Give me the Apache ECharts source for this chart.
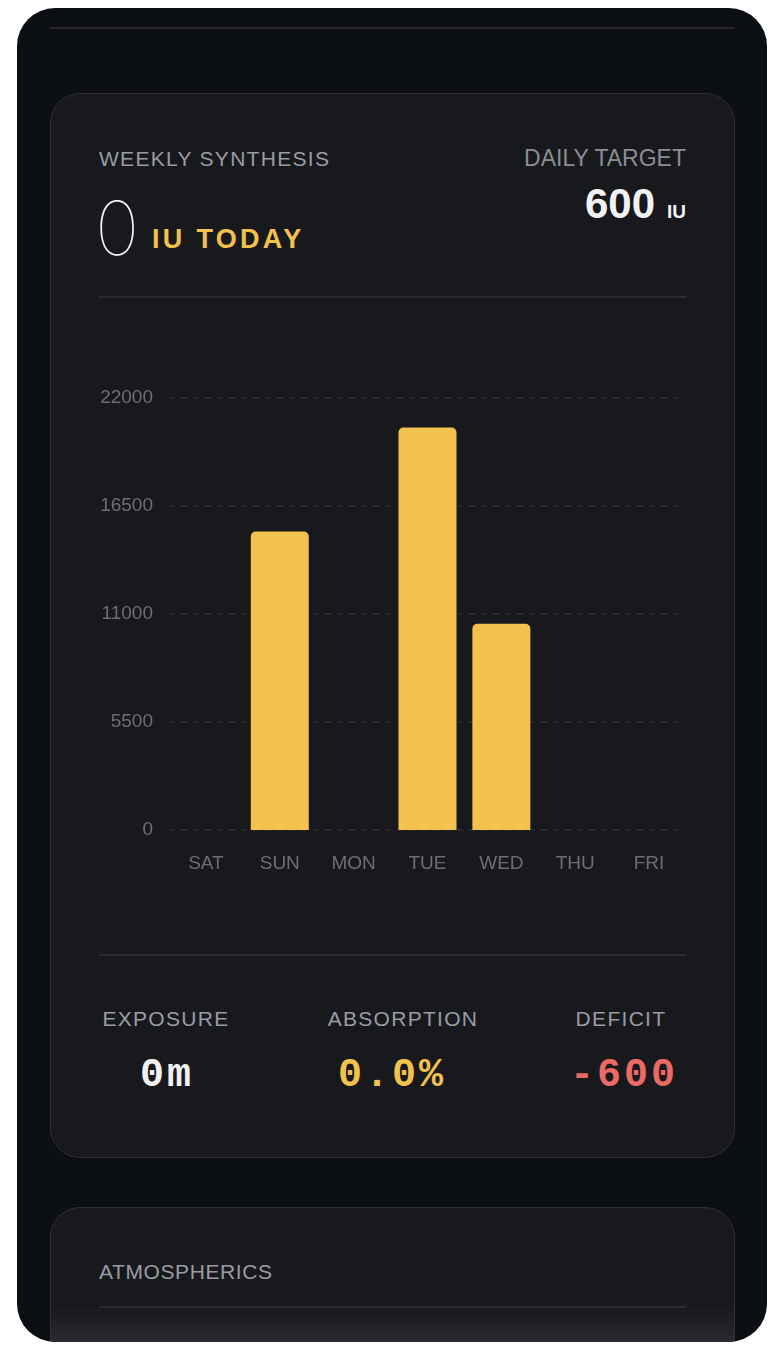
<!DOCTYPE html>
<html>
<head>
<meta charset="utf-8">
<script src="https://cdn.jsdelivr.net/npm/echarts@6/dist/echarts.min.js"></script>
<style>
  html, body { margin: 0; padding: 0; background: #ffffff; }
  body { width: 774px; height: 1354px; position: relative; overflow: hidden; font-family: "Liberation Sans", "Noto Sans", sans-serif; }
  .phone { position: absolute; left: 17px; top: 8px; width: 750px; height: 1334px; background: #0c0f13; border-radius: 38px; overflow: hidden; }
  .topline { position: absolute; left: 33px; top: 19px; width: 685px; height: 2px; background: #24262b; }
  .card { position: absolute; left: 33px; width: 683px; border: 1.5px solid #2f3035; border-radius: 30px; background: #18191d; }
  .card1 { top: 85px; height: 1063px; }
  .card2 { top: 1199px; height: 200px; background: linear-gradient(#18191d 0px, #18191d 98px, #2c2d32 140px); }
  .lbl { position: absolute; color: #9a9ca5; font-size: 21px; letter-spacing: 1.3px; }
  .divider { position: absolute; left: 48px; width: 587px; height: 1.5px; background: #2c2d32; }
  .mono { font-family: "Liberation Mono", "DejaVu Sans Mono", monospace; font-weight: 700; font-size: 40px; letter-spacing: 3px; position: absolute; text-align: center; }
  #chart { position: absolute; left: 0; top: 210px; width: 683px; height: 650px; }
</style>
</head>
<body>
<div class="phone">
  <div class="topline"></div>
  <div class="card card1">
    <div class="lbl" style="left:48px; top:53px;">WEEKLY SYNTHESIS</div>
    <div style="position:absolute; left:44px; top:96px; color:#f2f2f4; font-family:Inter, sans-serif; font-size:75px; font-weight:100; line-height:1;">0</div>
    <div style="position:absolute; left:101px; top:130px; color:#f2c14e; font-size:27px; font-weight:700; letter-spacing:3.3px;">IU TODAY</div>
    <div style="position:absolute; right:48px; top:51px; color:#8b8d95; font-size:23px;">DAILY TARGET</div>
    <div style="position:absolute; right:48px; top:86px; color:#f2f2f4; font-weight:700;"><span style="font-size:42px;">600</span><span style="font-size:19px; margin-left:12px;">IU</span></div>
    <div class="divider" style="top:202px;"></div>
    <div id="chart"></div>
    <div class="divider" style="top:860px;"></div>
    <div class="lbl" style="left:0; width:230px; text-align:center; top:913px;">EXPOSURE</div>
    <div class="lbl" style="left:237px; width:230px; text-align:center; top:913px;">ABSORPTION</div>
    <div class="lbl" style="left:455px; width:230px; text-align:center; top:913px;">DEFICIT</div>
    <div class="mono" style="left:0; width:232px; top:959px; color:#f2f2f4;">0m</div>
    <div class="mono" style="left:225px; width:232px; top:959px; color:#f2c14e;">0.0%</div>
    <div class="mono" style="left:455px; width:236px; top:959px; color:#ec6a66;">-600</div>
  </div>
  <div class="card card2">
    <div class="lbl" style="left:48px; top:52px; letter-spacing:0.6px;">ATMOSPHERICS</div>
    <div class="divider" style="top:98px;"></div>
  </div>
</div>
<script>
var days = ['SAT', 'SUN', 'MON', 'TUE', 'WED', 'THU', 'FRI'];
var synthesis = [0, 15200, 0, 20500, 10500, 0, 0];
var yTicks = [0, 5500, 11000, 16500, 22000];

var myChart = echarts.init(document.getElementById('chart'));

var option = {
    animation: false,
    grid: { left: 118, right: 48, top: 94, bottom: 124, containLabel: false },
    xAxis: {
        type: 'category',
        data: days,
        axisLine: { show: false },
        axisTick: { show: false },
        axisLabel: { color: '#6b6e78', fontSize: 19, margin: 24, fontFamily: 'Liberation Sans' }
    },
    yAxis: {
        type: 'value',
        min: yTicks[0],
        max: yTicks[yTicks.length - 1],
        interval: 5500,
        axisLine: { show: false },
        axisTick: { show: false },
        axisLabel: {
            color: '#6b6e78', fontSize: 19, margin: 16, fontFamily: 'Liberation Sans',
            formatter: function (v) { return String(v); }
        },
        splitLine: { lineStyle: { color: '#2c2d33', type: [6, 6], width: 1.5 } }
    },
    series: [{
        type: 'bar',
        data: synthesis,
        barWidth: 58,
        itemStyle: { color: '#f2c14e', borderRadius: [5, 5, 0, 0] }
    }]
};

myChart.setOption(option);
</script>
</body>
</html>
